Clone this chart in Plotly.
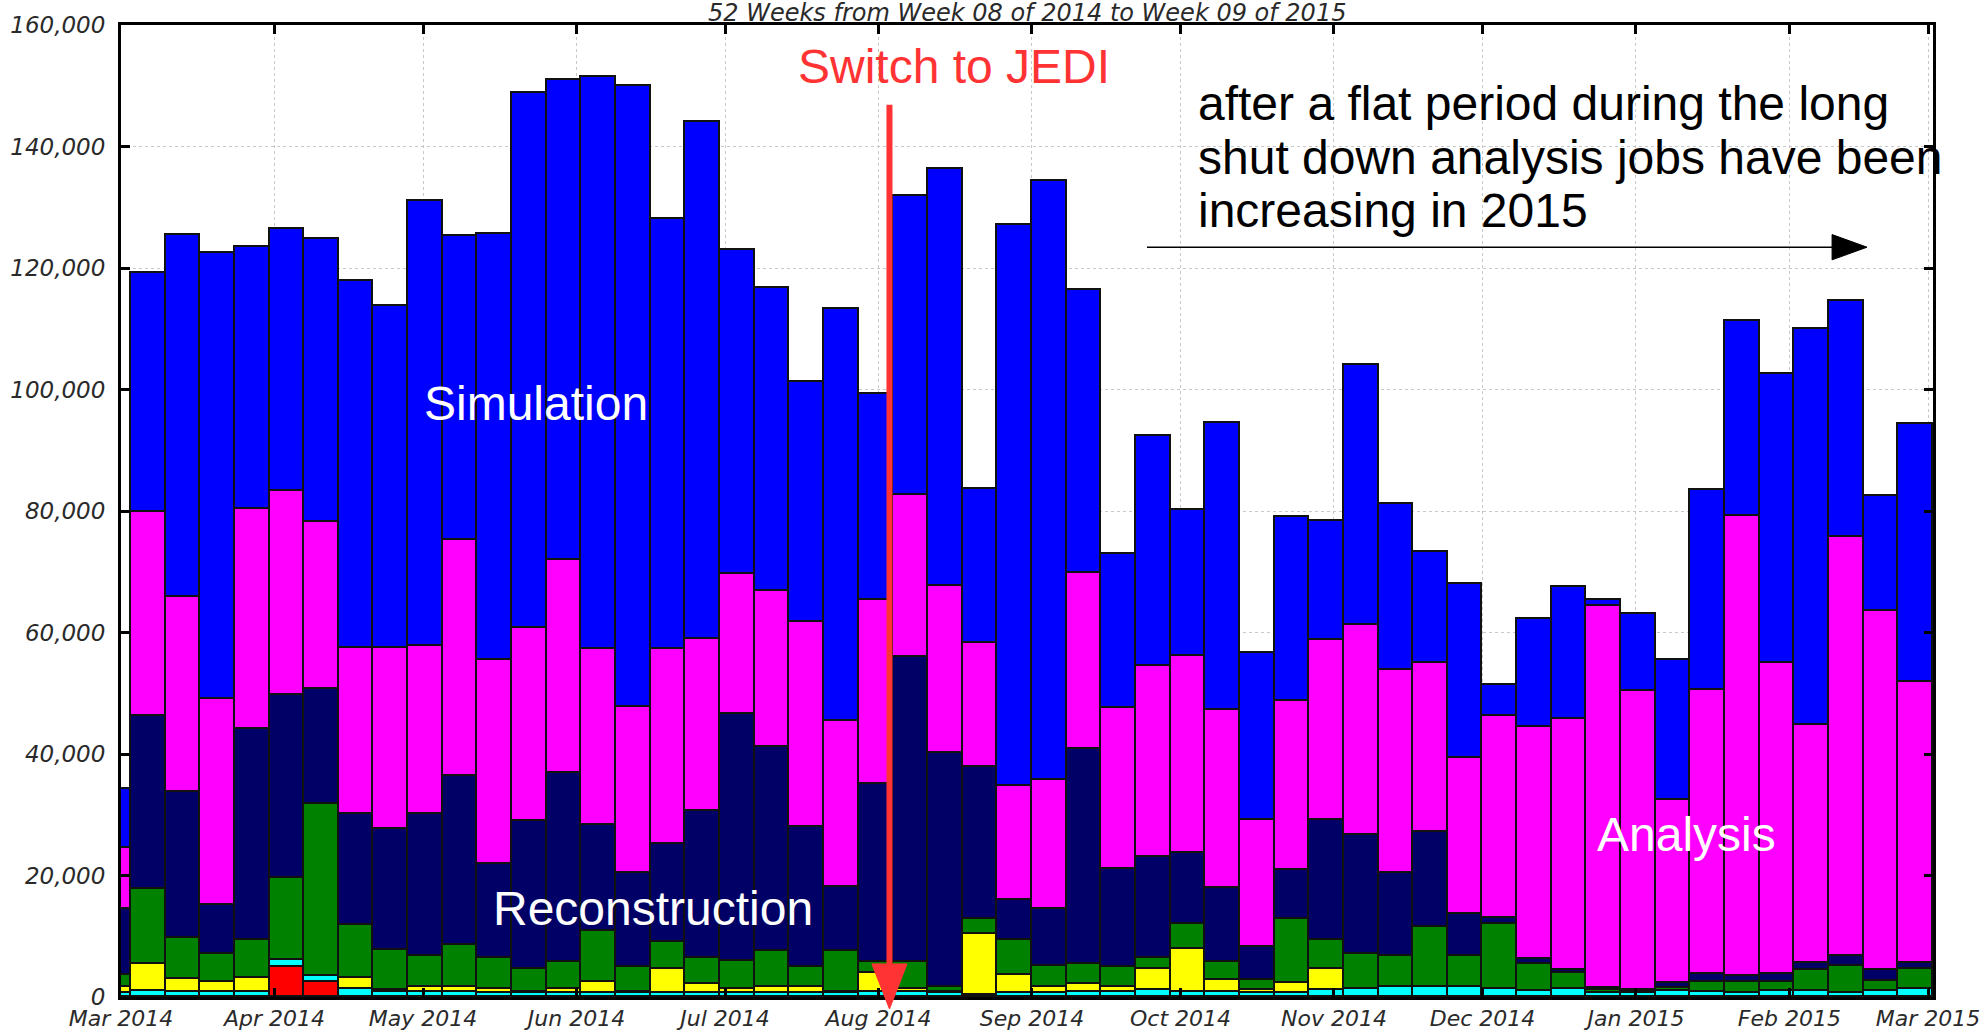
import plotly.graph_objects as go
import numpy as np

# Week start dates (first one is only partly inside the axis range)
weeks = [
    "2014-02-24", "2014-03-03", "2014-03-10", "2014-03-17", "2014-03-24", "2014-03-31",
    "2014-04-07", "2014-04-14", "2014-04-21", "2014-04-28", "2014-05-05", "2014-05-12",
    "2014-05-19", "2014-05-26", "2014-06-02", "2014-06-09", "2014-06-16", "2014-06-23",
    "2014-06-30", "2014-07-07", "2014-07-14", "2014-07-21", "2014-07-28", "2014-08-04",
    "2014-08-11", "2014-08-18", "2014-08-25", "2014-09-01", "2014-09-08", "2014-09-15",
    "2014-09-22", "2014-09-29", "2014-10-06", "2014-10-13", "2014-10-20", "2014-10-27",
    "2014-11-03", "2014-11-10", "2014-11-17", "2014-11-24", "2014-12-01", "2014-12-08",
    "2014-12-15", "2014-12-22", "2014-12-29", "2015-01-05", "2015-01-12", "2015-01-19",
    "2015-01-26", "2015-02-02", "2015-02-09", "2015-02-16", "2015-02-23",
]

# Jobs per week, in thousands
red = [0, 0, 0, 0, 0, 5.0, 2.4] + [0] * 46
cyan = [0.7, 1.0, 0.9, 0.9, 0.9, 1.1, 1.0, 1.4, 0.9, 0.9, 0.9,
        0.7, 0.7, 0.7, 0.7, 0.7, 0.7, 0.7, 0.7, 0.7, 0.7,
        0.7, 0.8, 0.8, 0.7, 0.4, 0.7, 0.7, 0.9, 0.8, 1.1,
        0.8, 0.8, 0.7, 0.7, 1.1, 1.4, 1.6, 1.6, 1.6, 1.3,
        1.0, 1.3, 0.7, 0.7, 1.0, 0.8, 0.7, 1.0, 1.0, 0.7,
        1.0, 1.3]
yellow = [1.0, 4.4, 2.0, 1.5, 2.2, 0, 0, 1.7, 0.2, 0.7, 0.7,
          0.6, 0.1, 0.7, 1.8, 0.1, 3.9, 1.4, 0.6, 0.9, 0.9,
          0.1, 3.1, 0.5, 0.1, 9.9, 2.9, 1.0, 1.2, 0.9, 3.5,
          7.1, 2.0, 0.5, 1.6, 3.5, 0, 0, 0, 0, 0,
          0, 0, 0, 0, 0, 0, 0, 0, 0, 0,
          0, 0]
green = [2.0, 12.4, 6.8, 4.7, 6.3, 13.5, 28.4, 8.8, 6.7, 5.2, 6.9,
         5.1, 3.8, 4.3, 8.3, 4.1, 4.4, 4.3, 4.7, 5.9, 3.3,
         6.7, 1.8, 4.5, 0.8, 2.5, 5.8, 3.4, 3.4, 3.3, 1.9,
         4.1, 2.9, 1.6, 10.5, 4.8, 5.7, 5.2, 10.0, 5.2, 10.7,
         4.5, 2.6, 0.5, 0.2, 0.5, 1.7, 1.8, 1.5, 3.4, 4.4,
         1.6, 3.3]
navy = [10.8, 28.5, 24.1, 8.0, 34.7, 30.1, 18.9, 18.2, 19.8, 23.3, 27.9,
        15.5, 24.3, 31.2, 17.5, 15.5, 16.2, 24.3, 40.6, 33.7, 23.1,
        10.6, 29.3, 50.2, 38.5, 25.0, 6.5, 9.4, 35.3, 16.0, 16.6,
        11.7, 12.2, 5.5, 8.1, 19.7, 19.6, 13.6, 15.5, 6.8, 1.0,
        0.8, 0.5, 0.3, 0.2, 0.8, 1.3, 0.9, 1.3, 1.2, 1.6,
        1.9, 1.0]
magenta = [10.0, 33.5, 32.0, 34.0, 36.3, 33.6, 27.5, 27.4, 29.9, 27.7, 38.8,
           33.6, 31.8, 35.1, 29.0, 27.3, 32.1, 28.3, 23.1, 25.6, 33.8,
           27.3, 30.3, 26.7, 27.5, 20.4, 18.9, 21.3, 29.0, 26.6, 31.4,
           32.5, 29.3, 20.9, 27.8, 29.6, 34.5, 33.5, 27.9, 25.7, 33.2,
           38.1, 41.4, 62.9, 49.3, 30.2, 46.8, 75.7, 51.2, 39.2, 69.1,
           59.0, 46.2]
blue = [9.8, 39.4, 59.7, 73.4, 43.1, 43.2, 46.6, 60.3, 56.3, 73.2, 50.0,
        70.1, 88.1, 78.9, 94.2, 102.3, 70.7, 85.0, 53.2, 49.9, 39.5,
        67.9, 33.9, 49.2, 68.7, 25.5, 92.2, 98.5, 46.5, 25.3, 37.9,
        24.0, 47.3, 27.4, 30.3, 19.7, 42.8, 27.3, 18.3, 28.7, 5.1,
        17.9, 21.7, 1.0, 12.6, 22.9, 32.9, 32.2, 47.5, 65.2, 38.7,
        19.0, 42.5]

series = [
    ("Other", red, "#FF0000"),
    ("Other2", cyan, "#00FFFF"),
    ("Group", yellow, "#FFFF00"),
    ("Merge", green, "#008200"),
    ("Reconstruction", navy, "#000066"),
    ("Analysis", magenta, "#FF00FF"),
    ("Simulation", blue, "#0000FF"),
]

WEEK_MS = 7 * 24 * 3600 * 1000

fig = go.Figure()
for name, vals, col in series:
    fig.add_trace(go.Bar(
        x=weeks, y=np.array(vals) * 1000, name=name,
        width=WEEK_MS, offset=0,
        marker=dict(color=col, line=dict(color="#111111", width=1.6)),
        showlegend=False,
    ))

tickfont = dict(family="DejaVu Sans", size=23, color="#2a2a2a", style="italic")
xtickfont = dict(family="DejaVu Sans", size=22, color="#2a2a2a", style="italic")

fig.update_layout(
    width=1981, height=1032,
    margin=dict(l=121, r=48, t=25, b=35),
    barmode="stack", bargap=0,
    paper_bgcolor="white", plot_bgcolor="white",
    xaxis=dict(
        type="date", range=["2014-03-01", "2015-03-02"],
        tick0="2014-03-01", dtick="M1", tickformat="%b %Y",
        ticks="inside", ticklen=9, tickwidth=3, tickcolor="black",
        showline=True, linewidth=3, linecolor="black", mirror="ticks",
        showgrid=True, gridcolor="#c8c8c8", griddash="dot", gridwidth=1,
        tickfont=xtickfont, zeroline=False, automargin=False,
        ticklabeloverflow="allow",
    ),
    yaxis=dict(
        range=[0, 160000], tick0=0, dtick=20000, tickformat=",d",
        ticks="inside", ticklen=9, tickwidth=3, tickcolor="black",
        showline=True, linewidth=3, linecolor="black", mirror="ticks",
        showgrid=True, gridcolor="#c8c8c8", griddash="dot", gridwidth=1,
        tickfont=tickfont, zeroline=False, ticklabelstandoff=8, automargin=False,
        ticklabeloverflow="allow",
    ),
)

big = dict(family="Liberation Sans, Arial", size=48)
ann = [
    dict(text="52 Weeks from Week 08 of 2014 to Week 09 of 2015", x=0.5, y=1,
         yanchor="bottom", yshift=-4, showarrow=False,
         font=dict(family="DejaVu Sans", size=24, color="#2a2a2a", style="italic")),
    dict(text="Switch to JEDI", x=0.4597, y=0.957, font=dict(color="#FF3333", **big)),
    dict(text="after a flat period during the long", x=0.5935, y=0.9194, xanchor="left",
         font=dict(color="black", **big)),
    dict(text="shut down analysis jobs have been", x=0.5935, y=0.864, xanchor="left",
         font=dict(color="black", **big)),
    dict(text="increasing in 2015", x=0.5935, y=0.8095, xanchor="left",
         font=dict(color="black", **big)),
    dict(text="Simulation", x=0.229, y=0.611, font=dict(color="white", **big)),
    dict(text="Reconstruction", x=0.2936, y=0.0914, font=dict(color="white", **big)),
    dict(text="Analysis", x=0.8642, y=0.1674, font=dict(color="white", **big)),
]
for a in ann:
    a.setdefault("xref", "paper")
    a.setdefault("yref", "paper")
    a.setdefault("showarrow", False)
    a.setdefault("xanchor", "center")
    a.setdefault("yanchor", "middle")
    fig.add_annotation(**a)

# Red "switch" arrow and black trend arrow
ax_x = 0.4241
fig.add_shape(type="line", xref="paper", yref="paper",
              x0=ax_x, x1=ax_x, y0=0.918, y1=0.03,
              line=dict(color="#FF3333", width=6))
fig.add_shape(type="path", xref="paper", yref="paper",
              path=f"M {ax_x-0.0097},0.034 L {ax_x+0.0097},0.034 L {ax_x},-0.0123 Z",
              fillcolor="#FF3333", line=dict(color="#FF3333", width=1))
fig.add_shape(type="line", xref="paper", yref="paper",
              x0=0.5662, x1=0.946, y0=0.7714, y1=0.7714,
              line=dict(color="black", width=1.5))
fig.add_shape(type="path", xref="paper", yref="paper",
              path="M 0.9443,0.7844 L 0.9443,0.7584 L 0.9636,0.7714 Z",
              fillcolor="black", line=dict(color="black", width=1))

fig.write_html("out.html", config={"displayModeBar": False},
               post_script="document.body.style.margin='0';")
